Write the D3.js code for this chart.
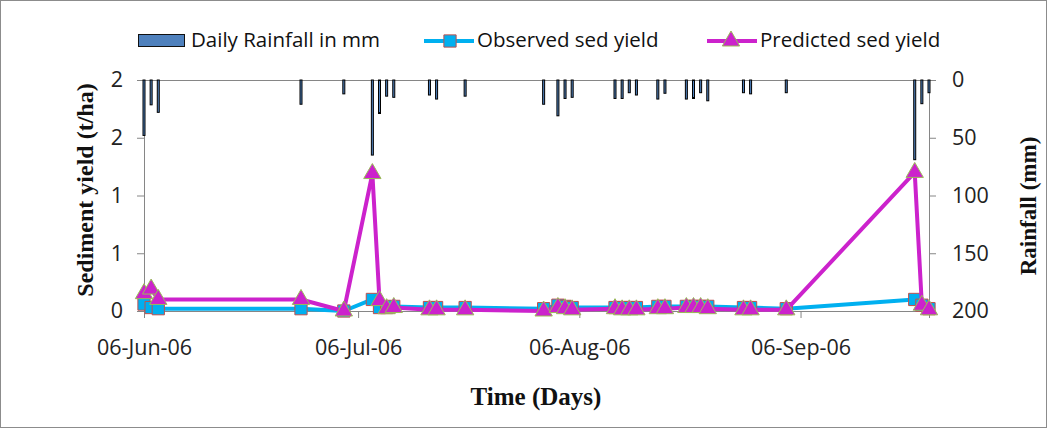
<!DOCTYPE html>
<html>
<head>
<meta charset="utf-8">
<script src="https://cdn.jsdelivr.net/npm/d3@7"></script>
<style>
  body { margin: 0; background: #fff; }
  svg { display: block; }
  .tick text { font-family: "Open Sans", Lato, sans-serif; font-size: 21.5px; fill: #222; }
  .axis path, .axis line { stroke: #868686; }
  .legend text { font-family: "Open Sans", Lato, sans-serif; font-size: 20.5px; fill: #111; }
  .title { font-family: "Liberation Serif", "Times New Roman", serif; font-weight: bold; fill: #111; }
</style>
</head>
<body>
<div id="chart"></div>
<script>
// rain days (sediment sampled on the same days)
const days = ['2006-06-06', '2006-06-07', '2006-06-08', '2006-06-28', '2006-07-04',
    '2006-07-08', '2006-07-09', '2006-07-10', '2006-07-11', '2006-07-16', '2006-07-17',
    '2006-07-21', '2006-08-01', '2006-08-03', '2006-08-04', '2006-08-05', '2006-08-11',
    '2006-08-12', '2006-08-13', '2006-08-14', '2006-08-17', '2006-08-18', '2006-08-21',
    '2006-08-22', '2006-08-23', '2006-08-24', '2006-08-29', '2006-08-30', '2006-09-04',
    '2006-09-22', '2006-09-23', '2006-09-24'];

const rainfall = [48, 21.5, 28, 21, 12, 65, 29, 14, 15, 13, 16.5, 14, 21, 31, 16, 15, 16, 16,
    11, 13, 16.5, 11.5, 16.5, 16, 11, 18, 11, 12, 11, 69, 20.5, 11];

const observed = [0.06, 0.03, 0.02, 0.02, 0.00, 0.10, 0.03, 0.03, 0.04, 0.03, 0.03, 0.03,
    0.02, 0.05, 0.04, 0.03, 0.03, 0.03, 0.03, 0.03, 0.04, 0.04, 0.04, 0.04, 0.04, 0.04,
    0.03, 0.03, 0.02, 0.10, 0.05, 0.02];

const predicted = [0.15, 0.19, 0.10, 0.10, 0.00, 1.19, 0.09, 0.02, 0.03, 0.01, 0.01, 0.01,
    0.00, 0.03, 0.02, 0.01, 0.02, 0.01, 0.01, 0.01, 0.02, 0.02, 0.03, 0.03, 0.03, 0.02,
    0.01, 0.01, 0.01, 1.20, 0.05, 0.01];

const xTicks = ['2006-06-06', '2006-07-06', '2006-08-06', '2006-09-06'];
const xDomain = ['2006-06-06', '2006-09-24'];
const sedTicks = [0, 0.5, 1, 1.5, 2];
const rainTicks = [0, 50, 100, 150, 200];

const legendItems = ['Daily Rainfall in mm', 'Observed sed yield', 'Predicted sed yield'];

function SedChart(container) {

    const W = 1051, H = 432;
    const margin = ({top: 80, right: 122, bottom: 121, left: 144});
    const width = W - margin.left - margin.right;
    const height = H - margin.top - margin.bottom;

    const parse = d3.utcParse('%Y-%m-%d');

    const root = d3.select(container)
        .append('svg')
        .attr('width', W)
        .attr('height', H);

    // outer frame
    root.append('rect')
        .attr('x', 0.5).attr('y', 0.5)
        .attr('width', W - 5).attr('height', H - 5)
        .attr('fill', 'none')
        .attr('stroke', '#8c8c8c');

    const svg = root.append('g')
        .attr('transform', 'translate(' + margin.left + ',' + margin.top + ')');

    const xScale = d3.scaleUtc()
        .domain(xDomain.map(parse))
        .range([0, width]);

    const yScale = d3.scaleLinear()
        .domain([0, 2])
        .range([height, 0]);

    const rScale = d3.scaleLinear()
        .domain([0, 200])
        .range([0, height]);

    const data = days.map((d, i) => ({
        date: parse(d),
        rain: rainfall[i],
        obs: observed[i],
        pred: predicted[i]
    }));

    // axes
    svg.append('g')
        .attr('class', 'axis y-axis')
        .call(d3.axisLeft(yScale).tickValues(sedTicks).tickSize(7).tickPadding(14)
            .tickFormat(d3.format('.0f')));

    svg.append('g')
        .attr('class', 'axis y2-axis')
        .attr('transform', 'translate(' + width + ',0)')
        .call(d3.axisRight(rScale).tickValues(rainTicks).tickSize(7).tickPadding(16));

    svg.append('g')
        .attr('class', 'axis x-axis')
        .attr('transform', 'translate(0,' + height + ')')
        .call(d3.axisBottom(xScale).tickValues(xTicks.map(parse)).tickSize(7).tickPadding(22)
            .tickFormat(d3.utcFormat('%d-%b-%y')));

    // top border line
    svg.append('line')
        .attr('x1', 0).attr('x2', width)
        .attr('y1', 0.5).attr('y2', 0.5)
        .attr('stroke', '#868686');

    svg.selectAll('.tick text').attr('fill', '#222');

    // rainfall bars hanging from the top
    svg.selectAll('.bar')
        .data(data)
        .enter()
        .append('rect')
        .attr('class', 'bar')
        .attr('x', d => xScale(d.date) - 1)
        .attr('y', 0)
        .attr('width', 2)
        .attr('height', d => rScale(d.rain))
        .attr('fill', '#4f81bd')
        .attr('stroke', '#000')
        .attr('stroke-width', 1);

    const line = key => d3.line()
        .x(d => xScale(d.date))
        .y(d => yScale(d[key]));

    const square = d3.symbol().type(d3.symbolSquare).size(150);
    const triangle = d3.symbol().type(d3.symbolTriangle).size(130);

    // observed
    svg.append('path')
        .datum(data)
        .attr('fill', 'none')
        .attr('stroke', '#00b0f0')
        .attr('stroke-width', 4)
        .attr('stroke-linejoin', 'round')
        .attr('d', line('obs'));

    svg.selectAll('.obs')
        .data(data)
        .enter()
        .append('path')
        .attr('class', 'obs')
        .attr('transform', d => 'translate(' + xScale(d.date) + ',' + yScale(d.obs) + ')')
        .attr('d', square)
        .attr('fill', '#00b0f0')
        .attr('stroke', '#c0504d')
        .attr('stroke-width', 1);

    // predicted
    svg.append('path')
        .datum(data)
        .attr('fill', 'none')
        .attr('stroke', '#cc22cc')
        .attr('stroke-width', 4)
        .attr('stroke-linejoin', 'round')
        .attr('d', line('pred'));

    svg.selectAll('.pred')
        .data(data)
        .enter()
        .append('path')
        .attr('class', 'pred')
        .attr('transform', d => 'translate(' + xScale(d.date) + ',' + yScale(d.pred) + ')')
        .attr('d', triangle)
        .attr('fill', '#cc22cc')
        .attr('stroke', '#9bbb59')
        .attr('stroke-width', 1);

    // axis titles
    root.append('text')
        .attr('class', 'title')
        .attr('transform', 'translate(93,190) rotate(-90)')
        .attr('text-anchor', 'middle')
        .attr('font-size', 24)
        .text('Sediment yield (t/ha)');

    root.append('text')
        .attr('class', 'title')
        .attr('transform', 'translate(1036,206) rotate(-90)')
        .attr('text-anchor', 'middle')
        .attr('font-size', 23)
        .text('Rainfall (mm)');

    root.append('text')
        .attr('class', 'title')
        .attr('x', 536).attr('y', 405)
        .attr('text-anchor', 'middle')
        .attr('font-size', 25)
        .text('Time (Days)');

    // legend
    const legend = root.append('g').attr('class', 'legend');

    legend.append('rect')
        .attr('x', 138.5).attr('y', 34.5)
        .attr('width', 46).attr('height', 12)
        .attr('fill', '#4f81bd')
        .attr('stroke', '#111');
    legend.append('text').attr('x', 191).attr('y', 47).text(legendItems[0]);

    legend.append('line')
        .attr('x1', 424).attr('x2', 474).attr('y1', 41).attr('y2', 41)
        .attr('stroke', '#00b0f0').attr('stroke-width', 4);
    legend.append('path')
        .attr('transform', 'translate(450,41)')
        .attr('d', square)
        .attr('fill', '#00b0f0').attr('stroke', '#c0504d');
    legend.append('text').attr('x', 477).attr('y', 47).text(legendItems[1]);

    legend.append('line')
        .attr('x1', 707).attr('x2', 757).attr('y1', 41).attr('y2', 41)
        .attr('stroke', '#cc22cc').attr('stroke-width', 4);
    legend.append('path')
        .attr('transform', 'translate(731,41)')
        .attr('d', triangle)
        .attr('fill', '#cc22cc').attr('stroke', '#9bbb59');
    legend.append('text').attr('x', 760).attr('y', 47).text(legendItems[2]);
}

SedChart('#chart');
</script>
</body>
</html>
